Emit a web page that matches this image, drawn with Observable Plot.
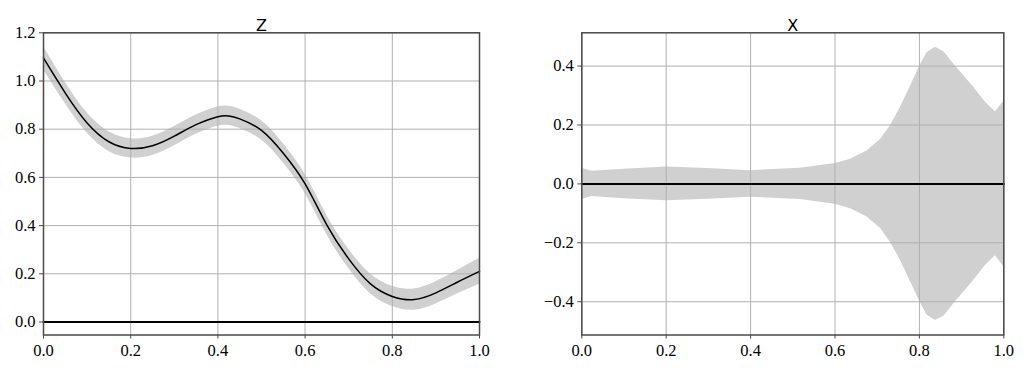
<!DOCTYPE html>
<html>
<head>
<meta charset="utf-8">
<script src="https://cdn.jsdelivr.net/npm/d3@7"></script>
<script src="https://cdn.jsdelivr.net/npm/@observablehq/plot@0.6"></script>
<style>
  html, body { margin: 0; padding: 0; background: #fff; }
  #wrap { display: flex; flex-direction: row; width: 1036px; height: 379px; }
  #wrap svg { display: block; }
  #wrap svg text { font-family: 'Liberation Serif', serif !important; font-size: 16.5px !important; fill: #000 !important; }
  #wrap svg text.ttl { font-family: 'DejaVu Sans', sans-serif !important; font-size: 16px !important; }
</style>
</head>
<body>
<div id="wrap"></div>
<script>
// ---- data ----
const titles = ["Z", "X"];
const xTicks = [0, 0.2, 0.4, 0.6, 0.8, 1.0];
const zTicks = [0, 0.2, 0.4, 0.6, 0.8, 1.0, 1.2];
const xPanelTicks = [-0.4, -0.2, 0, 0.2, 0.4];

// Z panel: posterior mean and band half-width
const zX    = [0, 0.05, 0.1, 0.15, 0.2, 0.25, 0.3, 0.35, 0.4, 0.425, 0.45, 0.5, 0.55, 0.6, 0.65, 0.7, 0.75, 0.8, 0.85, 0.9, 0.95, 1.0];
const zMean = [1.095, 0.950, 0.826, 0.748, 0.720, 0.731, 0.771, 0.819, 0.852, 0.855, 0.843, 0.795, 0.700, 0.573, 0.402, 0.262, 0.158, 0.106, 0.093, 0.121, 0.166, 0.210];
const zHalf = [0.048, 0.044, 0.042, 0.041, 0.040, 0.040, 0.040, 0.040, 0.040, 0.040, 0.040, 0.040, 0.040, 0.040, 0.040, 0.040, 0.041, 0.042, 0.044, 0.046, 0.049, 0.053];

// X panel: mean is zero, band half-width
const xX    = [0, 0.024, 0.1, 0.2, 0.3, 0.4, 0.518, 0.601, 0.637, 0.676, 0.708, 0.731, 0.755, 0.779, 0.801, 0.818, 0.838, 0.858, 0.882, 0.929, 0.957, 0.98, 1.0];
const xMean = [0, 0, 0, 0, 0, 0, 0, 0, 0, 0, 0, 0, 0, 0, 0, 0, 0, 0, 0, 0, 0, 0, 0];
const xHalf = [0.053, 0.043, 0.050, 0.057, 0.052, 0.045, 0.053, 0.069, 0.084, 0.112, 0.151, 0.197, 0.259, 0.332, 0.400, 0.445, 0.464, 0.449, 0.406, 0.327, 0.276, 0.244, 0.281];

const zeroLine = [0, 1];
const fmt = d3.format(".1f");

function panel({title, xs, mean, half, yDomain, yTicks, marginLeft, marginRight, curveBand, showMean}) {
  const rows = xs.map((x, i) => ({x, m: mean[i], lo: mean[i] - half[i], hi: mean[i] + half[i]}));
  const marks = [
    Plot.areaY(rows, {x: "x", y1: "lo", y2: "hi", fill: "#d0d0d0", curve: curveBand}),
    Plot.gridX(xTicks, {stroke: "#b0b0b0", strokeOpacity: 1, strokeWidth: 1}),
    Plot.gridY(yTicks, {stroke: "#b0b0b0", strokeOpacity: 1, strokeWidth: 1}),
    Plot.lineY(zeroLine, {x: d => d, y: 0, stroke: "#000", strokeWidth: 2})
  ];
  if (showMean) marks.push(Plot.line(rows, {x: "x", y: "m", stroke: "#000", strokeWidth: 1.5, curve: curveBand}));
  marks.push(
    Plot.frame({stroke: "#4a4a4a", strokeWidth: 1.5}),
    Plot.axisX(xTicks, {tickSize: 4, tickPadding: 5, tickFormat: fmt, stroke: "#4a4a4a", label: null}),
    Plot.axisY(yTicks, {tickSize: 4, tickPadding: 4, tickFormat: fmt, stroke: "#4a4a4a", label: null}),
    Plot.text([title], {text: d => d, frameAnchor: "top", dy: -13})
  );
  const svg = Plot.plot({
    width: 518, height: 379,
    marginTop: 32.3, marginBottom: 44.5, marginLeft, marginRight,
    x: {domain: [0, 1]},
    y: {domain: yDomain},
    style: {background: "#fff", overflow: "visible"},
    marks
  });
  svg.querySelectorAll("text").forEach(t => {
    if (titles.includes(t.textContent)) t.setAttribute("class", "ttl");
  });
  return svg;
}

const wrap = document.getElementById("wrap");
wrap.appendChild(panel({
  title: titles[0], xs: zX, mean: zMean, half: zHalf,
  yDomain: [-0.054, 1.2], yTicks: zTicks,
  marginLeft: 43, marginRight: 39, curveBand: "natural", showMean: true
}));
wrap.appendChild(panel({
  title: titles[1], xs: xX, mean: xMean, half: xHalf,
  yDomain: [-0.513, 0.513], yTicks: xPanelTicks,
  marginLeft: 63.3, marginRight: 32.7, curveBand: "linear", showMean: false
}));
</script>
</body>
</html>
